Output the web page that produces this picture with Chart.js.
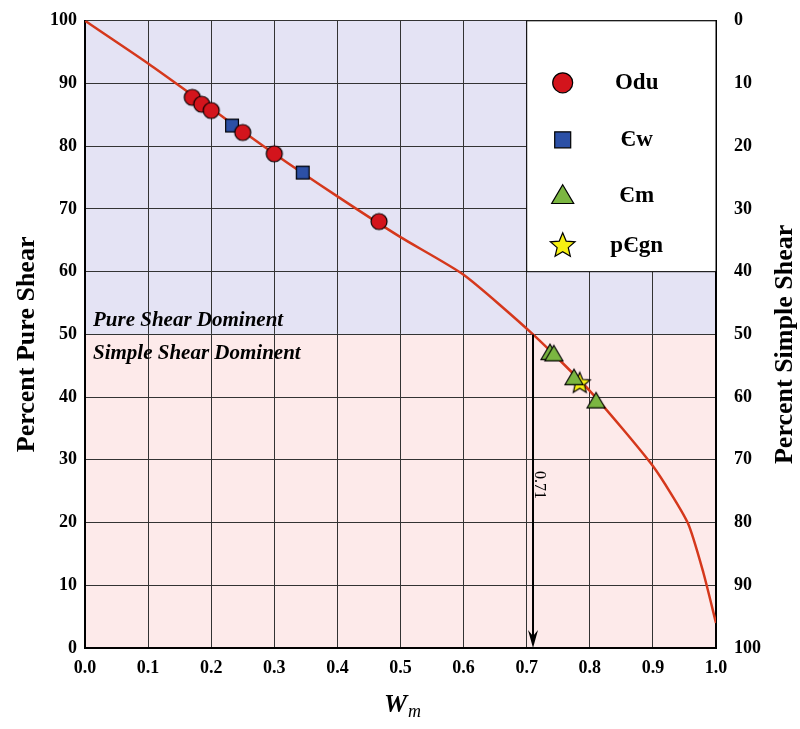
<!DOCTYPE html>
<html>
<head>
<meta charset="utf-8">
<script src="https://cdn.jsdelivr.net/npm/chart.js@4/dist/chart.umd.min.js"></script>
<style>
  body { margin: 0; background: #fff; }
  #wrap { width: 800px; height: 729px; }
</style>
</head>
<body>
<div id="wrap"><canvas id="c"></canvas></div>
<script>
// curve: Wm vs percent pure shear
const curveWm   = [0.0, 0.1, 0.2, 0.3, 0.4, 0.5, 0.6, 0.71, 0.8, 0.9, 0.955, 0.98, 1.0];
const curvePure = [100, 93.2, 86, 78.8, 72, 65.5, 59.5, 50, 41, 29, 20, 12, 4];

const oduWm   = [0.17, 0.185, 0.2, 0.25, 0.3, 0.466];
const oduPure = [87.8, 86.7, 85.7, 82.2, 78.8, 68];
const cwWm    = [0.233, 0.345];
const cwPure  = [83.3, 75.8];
const cmWm    = [0.737, 0.743, 0.775, 0.81];
const cmPure  = [47, 46.8, 43, 39.3];
const gnWm    = [0.784];
const gnPure  = [42.2];

const xTicks = [0, 0.1, 0.2, 0.3, 0.4, 0.5, 0.6, 0.7, 0.8, 0.9, 1.0];
const wmArrow = 0.71;
const boundary = 50;

const legendItems = [
  { label: 'Odu', style: 'circle', color: '#d3141c', r: 10 },
  { label: 'Єw', style: 'rect', color: '#2c50a6', r: 10 },
  { label: 'Єm', style: 'triangle', color: '#7bb641', r: 11 },
  { label: 'pЄgn', style: 'star', color: '#f6f012', r: 13 }
];

const pts = (xs, ys) => xs.map((x, i) => ({ x: x, y: ys[i] }));
const serif = '"Liberation Serif", "DejaVu Serif", serif';

function drawMarker(ctx, style, cx, cy, r, color) {
  ctx.save();
  ctx.fillStyle = color; ctx.strokeStyle = '#000'; ctx.lineWidth = 1.2;
  ctx.beginPath();
  if (style === 'circle') ctx.arc(cx, cy, r, 0, Math.PI * 2);
  else if (style === 'rect') ctx.rect(cx - r * 0.8, cy - r * 0.8, r * 1.6, r * 1.6);
  else if (style === 'triangle') { ctx.moveTo(cx, cy - r); ctx.lineTo(cx + r, cy + r * 0.7); ctx.lineTo(cx - r, cy + r * 0.7); ctx.closePath(); }
  else {
    for (let k = 0; k < 10; k++) {
      const rr = k % 2 ? r * 0.45 : r, ang = -Math.PI / 2 + k * Math.PI / 5;
      ctx.lineTo(cx + rr * Math.cos(ang), cy + rr * Math.sin(ang));
    }
    ctx.closePath();
  }
  ctx.fill(); ctx.stroke();
  ctx.restore();
}

// marker images for the scatter points
function markerImage(style, r, color) {
  const c = document.createElement('canvas');
  c.width = c.height = r * 2 + 4;
  drawMarker(c.getContext('2d'), style, r + 2, r + 2, r, color);
  return c;
}

// 🎨 background bands (under grid)
const bgPlugin = {
  id: 'bg',
  beforeDraw(chart) {
    const { ctx, chartArea: a, scales: { y } } = chart;
    const yb = y.getPixelForValue(boundary);
    ctx.save();
    ctx.fillStyle = '#e4e3f4';
    ctx.fillRect(a.left, a.top, a.right - a.left, yb - a.top);
    ctx.fillStyle = '#fdeaea';
    ctx.fillRect(a.left, yb, a.right - a.left, a.bottom - yb);
    ctx.restore();
  }
};

// 📝 annotations, titles, legend
const overlayPlugin = {
  id: 'overlay',
  afterDraw(chart) {
    const { ctx, chartArea: a, scales: { x, y } } = chart;
    ctx.save();

    // arrow at 0.71
    const ax = x.getPixelForValue(wmArrow);
    const y1 = y.getPixelForValue(boundary), y2 = y.getPixelForValue(0);
    ctx.strokeStyle = '#000'; ctx.fillStyle = '#000'; ctx.lineWidth = 2;
    ctx.beginPath(); ctx.moveTo(ax, y1); ctx.lineTo(ax, y2 - 8); ctx.stroke();
    ctx.beginPath(); ctx.moveTo(ax, y2); ctx.lineTo(ax - 5, y2 - 18); ctx.lineTo(ax, y2 - 12); ctx.lineTo(ax + 5, y2 - 18); ctx.closePath(); ctx.fill();
    ctx.save();
    ctx.translate(ax + 6, y.getPixelForValue(26));
    ctx.rotate(Math.PI / 2);
    ctx.font = '16px ' + serif; ctx.textAlign = 'center'; ctx.textBaseline = 'middle';
    ctx.fillText(String(wmArrow), 0, 0);
    ctx.restore();

    // region labels
    ctx.font = 'italic bold 21px ' + serif; ctx.textAlign = 'left'; ctx.textBaseline = 'middle';
    ctx.fillText('Pure Shear Dominent', a.left + 8, y1 - 14);
    ctx.fillText('Simple Shear Dominent', a.left + 8, y1 + 19);

    // legend box
    const lx0 = x.getPixelForValue(0.7);
    const ly1 = y.getPixelForValue(60);
    ctx.fillStyle = '#fff';
    ctx.fillRect(lx0, a.top, a.right - lx0, ly1 - a.top);
    ctx.lineWidth = 1; ctx.strokeStyle = '#000';
    ctx.strokeRect(lx0, a.top, a.right - lx0, ly1 - a.top);
    const rows = [62, 119, 175, 225];
    legendItems.forEach((it, i) => {
      const my = a.top + rows[i];
      drawMarker(ctx, it.style, lx0 + 36, my, it.r, it.color);
      ctx.fillStyle = '#000';
      ctx.font = 'bold 23px ' + serif; ctx.textAlign = 'center'; ctx.textBaseline = 'middle';
      ctx.fillText(it.label, lx0 + 110, my);
    });

    // axis titles
    ctx.fillStyle = '#000';
    ctx.font = 'bold 26px ' + serif; ctx.textAlign = 'center'; ctx.textBaseline = 'middle';
    ctx.save(); ctx.translate(27, (a.top + a.bottom) / 2 + 10); ctx.rotate(-Math.PI / 2);
    ctx.fillText('Percent Pure Shear', 0, 0); ctx.restore();
    ctx.save(); ctx.translate(785, (a.top + a.bottom) / 2 + 10); ctx.rotate(-Math.PI / 2);
    ctx.fillText('Percent Simple Shear', 0, 0); ctx.restore();
    const cx = (a.left + a.right) / 2;
    ctx.font = 'italic bold 26px ' + serif;
    ctx.fillText('W', cx - 5, 705);
    ctx.font = 'italic 18px ' + serif;
    ctx.fillText('m', cx + 14, 712);
    ctx.restore();
  }
};

const tickFont = { family: serif, size: 18, weight: 'bold' };
const gridOpt = { color: '#333', lineWidth: 1, drawTicks: false };

new Chart(document.getElementById('c'), {
  type: 'scatter',
  data: {
    datasets: [
      { type: 'line', data: pts(curveWm, curvePure), borderColor: '#d5381c', borderWidth: 2.5, pointRadius: 0, tension: 0.2, order: 5 },
      { data: pts(oduWm, oduPure), pointStyle: markerImage('circle', 8, '#d3141c') },
      { data: pts(cwWm, cwPure), pointStyle: markerImage('rect', 8, '#2c50a6') },
      { data: pts(cmWm, cmPure), pointStyle: markerImage('triangle', 9, '#7bb641') },
      { data: pts(gnWm, gnPure), pointStyle: markerImage('star', 11, '#f6f012') }
    ]
  },
  options: {
    responsive: true, maintainAspectRatio: false, animation: false,
    layout: { padding: { top: 15, left: 0, right: 0, bottom: 0 } },
    plugins: { legend: { display: false }, tooltip: { enabled: false } },
    scales: {
      x: {
        type: 'linear', min: 0, max: 1,
        afterBuildTicks: s => { s.ticks = xTicks.map(v => ({ value: v })); },
        afterFit: s => { s.height = 81; },
        ticks: { font: tickFont, color: '#000', padding: 10, callback: v => v.toFixed(1), maxRotation: 0 },
        grid: gridOpt, border: { color: '#000', width: 2 }
      },
      y: {
        min: 0, max: 100, position: 'left',
        afterFit: s => { s.width = 85; },
        ticks: { stepSize: 10, font: tickFont, color: '#000', padding: 8 },
        grid: gridOpt, border: { color: '#000', width: 2 }
      },
      y2: {
        min: 0, max: 100, position: 'right', reverse: true,
        afterFit: s => { s.width = 84; },
        ticks: { stepSize: 10, font: tickFont, color: '#000', padding: 10 },
        grid: { display: false }, border: { color: '#000', width: 2 }
      }
    }
  },
  plugins: [bgPlugin, overlayPlugin]
});
</script>
</body>
</html>
